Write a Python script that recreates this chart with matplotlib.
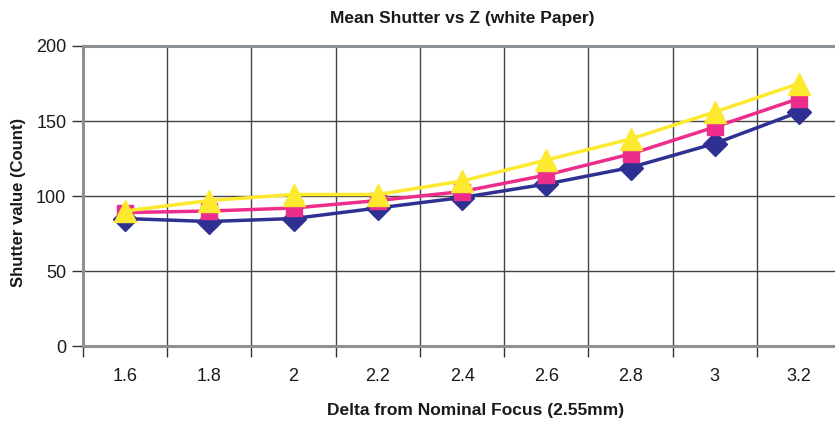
import matplotlib.pyplot as plt
from matplotlib.ticker import FixedLocator

plt.rcParams['font.family'] = ['Liberation Sans', 'DejaVu Sans']

# Data
categories = ['1.6', '1.8', '2', '2.2', '2.4', '2.6', '2.8', '3', '3.2']
series_diamond = [85, 83, 85, 92, 99, 108, 119, 135, 156]
series_square = [89, 90, 92, 97, 103, 114, 128, 146, 165]
series_triangle = [90, 97, 101, 101, 110, 124, 138, 156, 175]

NAVY = '#2e3192'
PINK = '#ec2d8c'
YELLOW = '#fde92d'
FRAME = '#8c9196'
TEXT = '#1a1a1a'

fig = plt.figure(figsize=(8.35, 4.22), dpi=100)
ax = fig.add_axes([0.0994, 0.180, 0.908, 0.711])

x = list(range(len(categories)))
ax.plot(x, series_diamond, color=NAVY, lw=2.5, marker='D', ms=12,
        mec=NAVY, mfc=NAVY, zorder=3, clip_on=False)
ax.plot(x, series_square, color=PINK, lw=2.5, marker='s', ms=11,
        mec=PINK, mfc=PINK, zorder=4, clip_on=False)
ax.plot(x, series_triangle, color=YELLOW, lw=2.5, marker='^', ms=16,
        mec=YELLOW, mfc=YELLOW, zorder=5, clip_on=False)

ax.set_xlim(-0.5, len(categories) - 0.5)
ax.set_ylim(0, 200)

# category labels at centers, gridlines/ticks between categories
ax.set_xticks(x)
ax.set_xticklabels(categories, fontsize=13, color=TEXT)
ax.tick_params(axis='x', which='major', length=0, pad=16)
ax.xaxis.set_minor_locator(FixedLocator([i - 0.5 for i in range(len(categories) + 1)]))
ax.tick_params(axis='x', which='minor', length=8, width=1, color='#333333')
ax.grid(True, axis='x', which='minor', color='#444444', lw=1)

ax.set_yticks([0, 50, 100, 150, 200])
ax.tick_params(axis='y', length=8, width=1, color='#333333', labelsize=13,
               labelcolor=TEXT, pad=4)
ax.grid(True, axis='y', which='major', color='#444444', lw=1)
ax.set_axisbelow(True)

for side in ['left', 'bottom', 'top']:
    ax.spines[side].set_color(FRAME)
    ax.spines[side].set_linewidth(2.2)
ax.spines['right'].set_visible(False)

fig.text(0.553, 0.955, 'Mean Shutter vs Z (white Paper)', ha='center', va='center',
         fontsize=12.5, fontweight='bold', color=TEXT)
fig.text(0.569, 0.028, 'Delta from Nominal Focus (2.55mm)', ha='center', va='center',
         fontsize=12.5, fontweight='bold', color=TEXT)
fig.text(0.022, 0.52, 'Shutter value (Count)', ha='center', va='center', rotation=90,
         fontsize=12, fontweight='bold', color=TEXT)

fig.savefig('out.png', dpi=100)
